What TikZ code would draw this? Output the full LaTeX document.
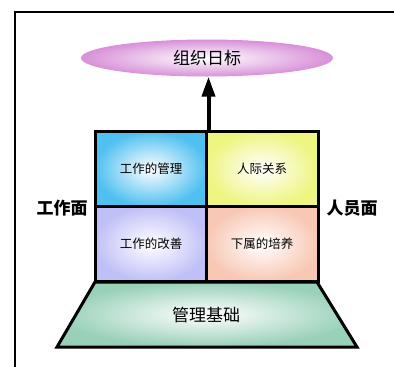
\documentclass[tikz,border=0pt]{standalone}
\usepackage{fontspec}
\setmainfont{Noto Sans CJK SC}
\usetikzlibrary{arrows.meta,shapes.geometric}
\definecolor{ellc}{HTML}{D890D8}
\definecolor{bluec}{HTML}{50C0F0}
\definecolor{yelc}{HTML}{EEF580}
\definecolor{lavc}{HTML}{C0C0F8}
\definecolor{peachc}{HTML}{F8C8B4}
\definecolor{greenc}{HTML}{98D0B8}
\tikzset{
  cell/.style={draw=black, line width=3pt, minimum width=112pt, minimum height=75pt, inner sep=0pt, font=\fontsize{12.5}{12.5}\selectfont},
  side/.style={font=\fontsize{17}{17}\selectfont\bfseries},
}
\begin{document}
\begin{tikzpicture}[x=1pt,y=-1pt]
\useasboundingbox (0,0) rectangle (394,367);
\fill[white] (0,0) rectangle (394,367);
\draw[line width=1.5pt] (15,367) -- (15,12) -- (394,12);
% goal ellipse
\node[ellipse, minimum width=252pt, minimum height=37pt, inner sep=0pt, shade, inner color=white, outer color=ellc, font=\fontsize{17}{17}\selectfont] (goal) at (207,58) {组织日标};
% cells
\node[cell, shade, inner color=white, outer color=bluec] (c1) at (151,169) {工作的管理};
\node[cell, shade, inner color=white, outer color=yelc] (c2) at (262,169) {人际关系};
\node[cell, shade, inner color=white, outer color=lavc] (c3) at (151,244) {工作的改善};
\node[cell, shade, inner color=white, outer color=peachc] (c4) at (262,244) {下属的培养};
% base trapezoid
\coordinate (b1) at (95,282);
\coordinate (b2) at (317,282);
\coordinate (b3) at (357,347);
\coordinate (b4) at (57,347);
\draw[line width=3pt, line join=miter, shade, inner color=white, outer color=greenc] (b1) -- (b2) -- (b3) -- (b4) -- cycle;
\node[font=\fontsize{17}{17}\selectfont] (base) at (206,315) {管理基础};
% side labels
\node[side] (work) at (62,208) {工作面};
\node[side] (people) at (352,208) {人员面};
% arrow
\draw[line width=4pt, -{Triangle[length=20pt,width=13pt]}] (c1.north east) -- (c1.north east |- goal.south);
\end{tikzpicture}
\end{document}
